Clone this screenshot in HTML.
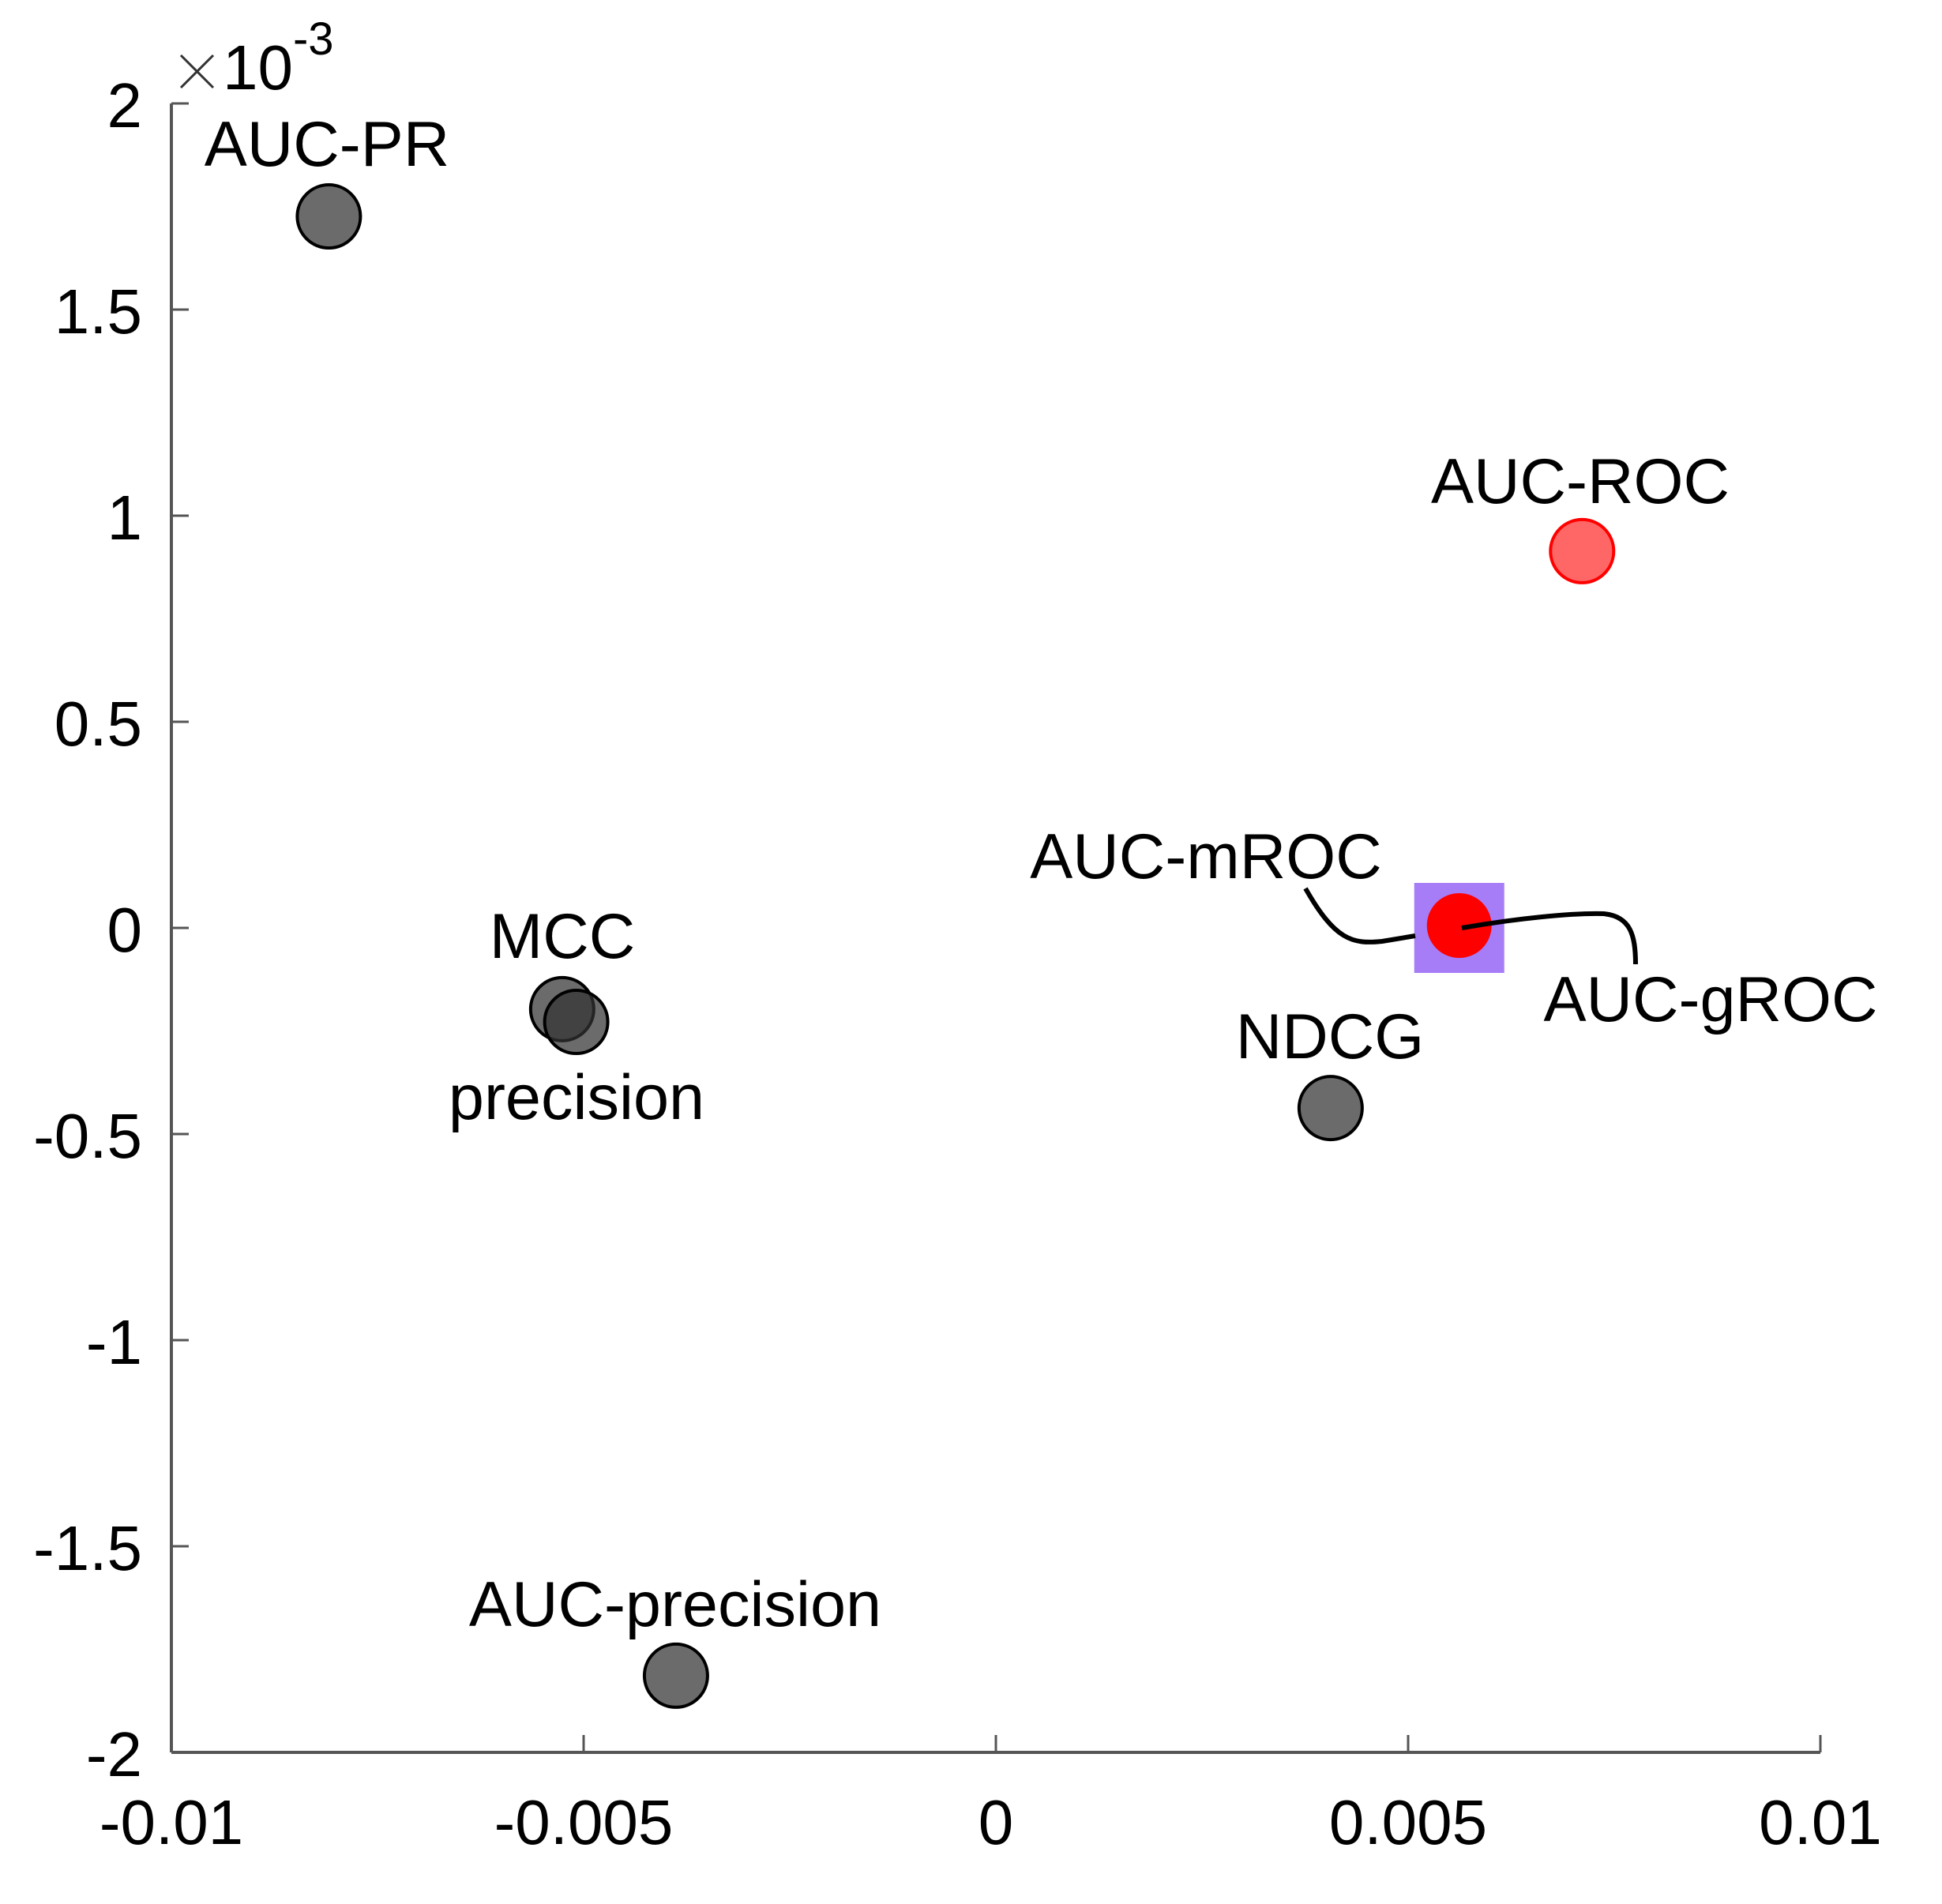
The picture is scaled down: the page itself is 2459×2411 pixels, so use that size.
<!DOCTYPE html>
<html><head><meta charset="utf-8"><style>
html,body{margin:0;padding:0;background:#fff;}
svg text{font-family:"Liberation Sans",Arial,sans-serif;fill:#000;}
</style></head><body>
<svg id="chart" width="2459" height="2406" viewBox="0 0 2459 2406" xmlns="http://www.w3.org/2000/svg">
<rect width="2459" height="2406" fill="#fff"/>
<g id="axes"></g>
<g id="marks"></g>
<g id="labels"></g>
</svg>
<script>
const names = ["AUC-PR","AUC-ROC","MCC","precision","NDCG","AUC-precision"];
const xVals = [-0.00809, 0.00711, -0.00526, -0.00509, 0.00406, -0.00388];
const yVals = [1.726, 0.914, -0.197, -0.228, -0.437, -1.814];
const highlightX = [0.00562];
const highlightY = [0.0];
const xTicks = [-0.01,-0.005,0,0.005,0.01];
const xTickLabels = ["-0.01","-0.005","0","0.005","0.01"];
const yTicks = [2,1.5,1,0.5,0,-0.5,-1,-1.5,-2];
const yTickLabels = ["2","1.5","1","0.5","0","-0.5","-1","-1.5","-2"];

const L=217,R=2305,T=131,B=2219;
const sx=v=>L+(v+0.01)/0.02*(R-L);
const sy=v=>T+(2-v)/4*(B-T);
const NS="http://www.w3.org/2000/svg";
function mk(tag,attrs,parent){const e=document.createElementNS(NS,tag);for(const k in attrs)e.setAttribute(k,attrs[k]);parent.appendChild(e);return e;}
const axes=document.getElementById('axes'),marks=document.getElementById('marks'),labels=document.getElementById('labels');

let e=mk('line',{x1:L,y1:T,x2:L,y2:B,stroke:'#555','stroke-width':4},axes);


e=mk('line',{x1:L,y1:B,x2:R,y2:B,stroke:'#555','stroke-width':4},axes);


xTicks.forEach((v,i)=>{
  const t=mk('line',{x1:sx(v),y1:B,x2:sx(v),y2:B-22,stroke:'#555','stroke-width':3},axes);
  
  
  const tx=mk('text',{x:sx(v),y:2335,'font-size':80,'text-anchor':'middle'},axes);
  tx.textContent=xTickLabels[i];
  
  
});
yTicks.forEach((v,i)=>{
  const t=mk('line',{x1:L,y1:sy(v),x2:L+22,y2:sy(v),stroke:'#555','stroke-width':3},axes);
  
  
  const tx=mk('text',{x:180,y:sy(v)+30,'font-size':80,'text-anchor':'end'},axes);
  tx.textContent=yTickLabels[i];
  
  
});
const cross=mk('path',{d:'M229,70 L270,111 M270,70 L229,111',stroke:'#333','stroke-width':3,fill:'none'},axes);


const ex=mk('text',{x:282,y:113,'font-size':80},axes);
ex.innerHTML='10<tspan font-size="58" dy="-44">-3</tspan>';



const hs=mk('rect',{x:sx(highlightX[0])-57,y:sy(highlightY[0])-57,width:114,height:114,fill:'#a67df7'},marks);


const hp=mk('circle',{cx:sx(highlightX[0]),cy:sy(highlightY[0])-3,r:41,fill:'#ff0000'},marks);



names.forEach((n,i)=>{
  const red=n==="AUC-ROC";
  const c=mk('circle',{cx:sx(xVals[i]),cy:sy(yVals[i]),r:40,fill:red?'#ff6666':'rgba(50,50,50,0.72)',stroke:red?'#ff0000':'#000','stroke-width':4},marks);
  
  
});

const l1=mk('path',{d:'M1653,1125 C1690,1190 1712,1196 1750,1192 L1792,1185',fill:'none',stroke:'#000','stroke-width':6},marks);


const l2=mk('path',{d:'M1851,1175 C1920,1163 1990,1156 2030,1157 C2065,1160 2071,1185 2071,1221',fill:'none',stroke:'#000','stroke-width':6},marks);



const labelText=["AUC-PR","AUC-ROC","AUC-mROC","AUC-gROC","MCC","precision","NDCG","AUC-precision"];
const labelX=[414,2001,1527,2166,712,730,1684,855];
const labelY=[210,637,1112,1293,1213,1417,1340,2059];
labelText.forEach((t,i)=>{
  const tx=mk('text',{x:labelX[i],y:labelY[i],'font-size':81,'text-anchor':'middle'},labels);
  tx.textContent=t;
  
  
});
</script>
</body></html>
